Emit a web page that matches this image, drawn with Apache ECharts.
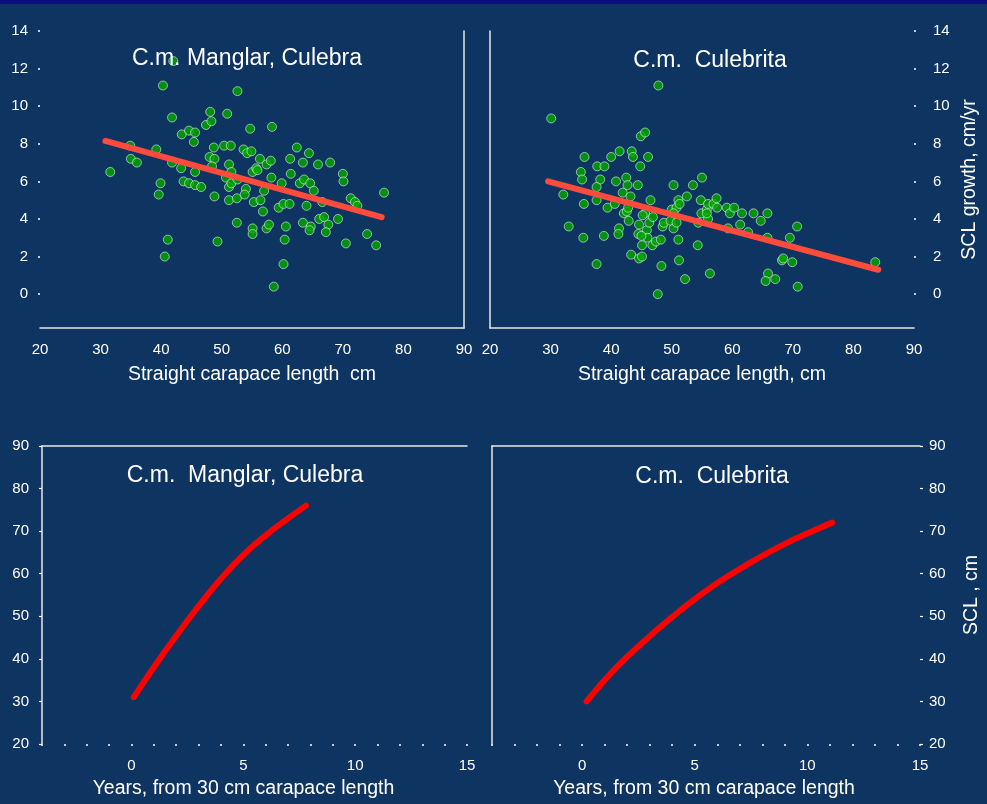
<!DOCTYPE html>
<html>
<head>
<meta charset="utf-8">
<script src="https://cdn.jsdelivr.net/npm/echarts@6/dist/echarts.min.js"></script>
<style>
  html, body { margin: 0; padding: 0; background: #0e3461; }
  #chart { width: 987px; height: 804px; }
</style>
</head>
<body>
<div id="chart"></div>
<script>
// Green turtle (Chelonia mydas) growth at two Culebra sites.
// Growth rate vs. straight carapace length: [SCL cm, growth cm/yr]
const manglarPoints = [
  [31.6,6.5],[34.9,7.9],[35.0,7.2],[36.0,7.0],[39.2,7.7],[40.3,11.1],[42.0,12.4],[41.8,9.4],
  [39.9,5.9],[39.6,5.3],[41.1,2.9],[40.6,2.0],[41.8,7.0],[43.4,8.5],[44.6,8.7],[45.6,8.6],
  [45.4,8.1],[43.3,6.7],[43.7,6.0],[44.6,5.9],[45.6,6.5],[45.6,5.8],[46.6,5.7],[47.4,9.0],
  [48.1,9.7],[48.3,9.2],[48.7,7.8],[48.0,7.3],[48.8,7.2],[48.4,6.8],[48.8,5.2],[49.3,2.8],
  [50.9,9.6],[50.4,7.9],[51.5,7.9],[51.2,6.9],[50.7,6.2],[51.2,5.7],[51.6,5.9],[51.2,5.0],
  [52.5,5.1],[52.6,10.8],[52.5,3.8],[52.6,6.1],[53.6,7.7],[54.2,7.5],[54.9,7.6],[54.0,5.6],
  [53.8,5.3],[54.7,8.8],[55.1,6.5],[55.7,6.7],[55.9,6.6],[55.3,4.9],[55.1,3.5],[55.1,3.2],
  [56.3,7.2],[56.4,5.0],[56.8,4.4],[57.0,5.5],[57.4,3.5],[57.8,3.7],[57.4,6.9],[58.1,7.1],
  [58.2,6.2],[58.3,8.9],[58.6,0.4],[59.4,4.6],[59.9,5.9],[60.2,4.8],[61.2,4.8],[60.6,3.6],
  [60.4,2.9],[60.2,1.6],[61.3,7.2],[61.4,6.4],[62.4,7.8],[63.4,7.0],[64.4,7.5],[62.9,5.9],
  [63.6,6.1],[64.6,5.9],[65.2,5.5],[64.0,4.7],[63.4,3.8],[64.7,3.6],[64.5,3.4],[65.9,6.9],
  [66.1,4.0],[66.9,4.1],[67.6,3.7],[67.2,3.3],[67.9,7.0],[66.6,4.9],[69.2,4.0],[70.0,6.4],
  [70.1,6.0],[70.5,2.7],[71.3,5.1],[72.0,4.9],[72.4,4.7],[74.0,3.2],[75.5,2.6],[76.8,5.4],
  [51.6,6.5]
];
const culebritaPoints = [
  [30.1,9.35],[32.1,5.3],[33.0,3.6],[35.6,7.3],[35.0,6.5],[35.2,6.1],[35.5,4.8],[35.4,3.0],
  [37.6,1.6],[37.7,6.8],[38.9,6.8],[38.2,6.1],[37.6,5.7],[37.6,5.0],[38.8,3.1],[39.4,4.6],
  [40.0,7.3],[41.4,7.6],[40.8,6.0],[40.6,4.8],[41.3,3.5],[41.2,3.2],[41.9,5.4],[42.5,6.2],
  [42.7,5.8],[43.2,5.2],[43.4,7.6],[43.6,7.3],[44.8,6.8],[44.9,8.4],[45.6,8.6],[46.1,7.3],
  [44.4,5.8],[42.1,4.3],[42.6,4.4],[42.9,3.9],[43.3,2.1],[44.6,3.7],[44.5,3.2],[45.1,2.6],
  [44.6,1.9],[45.1,2.0],[45.6,4.3],[45.9,3.4],[46.0,3.0],[46.3,3.8],[46.5,5.0],[46.9,4.1],
  [46.8,2.6],[47.4,2.8],[48.2,2.9],[47.8,11.1],[47.7,0.0],[48.3,1.5],[48.5,3.6],[48.7,3.8],
  [50.3,5.8],[50.0,4.5],[49.8,3.9],[50.3,3.5],[50.8,3.8],[50.8,4.6],[51.1,5.0],[51.1,2.9],
  [51.2,1.8],[52.2,0.8],[52.5,5.2],[53.5,5.8],[55.0,6.2],[54.8,5.0],[54.9,4.3],[54.4,3.8],
  [54.3,2.6],[55.8,4.5],[56.0,4.0],[56.3,1.1],[56.0,4.8],[56.9,4.8],[57.4,5.1],[57.5,4.6],
  [59.1,4.6],[59.6,4.3],[60.3,4.6],[61.6,4.3],[61.3,3.7],[59.3,3.5],[62.6,3.3],[63.5,4.3],
  [64.7,3.9],[65.8,4.3],[65.8,3.0],[65.9,1.1],[65.5,0.7],[67.1,0.8],[68.2,1.8],[68.4,1.9],
  [69.5,3.0],[69.9,1.7],[70.7,3.6],[70.8,0.4],[83.6,1.7],[51.3,4.8],[50.3,4.3],[55.8,4.3],
  [42.8,4.6],[45.2,4.2],[45.0,3.1]
];

// Fitted linear regressions (end points)
const manglarFit = [[30.8,8.15],[76.4,4.1]];
const culebritaFit = [[29.6,6.0],[84.1,1.3]];

// Predicted growth curves: years since 30 cm SCL vs SCL (cm)
const manglarYears = [0.1, 1.1, 2.0, 3.0, 4.0, 5.0, 6.0, 7.0, 7.8];
const manglarSCL   = [31, 38.8, 45.4, 52.4, 58.8, 64.4, 69.0, 73.0, 76];
const culebritaYears = [0.2, 1.5, 3.0, 4.5, 6.0, 7.5, 9.0, 10.4, 11.1];
const culebritaSCL   = [30, 37.9, 45.3, 52.0, 57.8, 62.7, 67.0, 70.4, 72.0];

// Tick labels
const lengthTicks = [20, 30, 40, 50, 60, 70, 80, 90];
const growthTicks = [0, 2, 4, 6, 8, 10, 12, 14];
const yearTicks = [0, 5, 10, 15];
const sclTicks = [20, 30, 40, 50, 60, 70, 80, 90];

const FONT = 'Liberation Sans, Arial, sans-serif';
const WHITE = '#ffffff';
const lineStyleW = { color: '#e8e8e8', width: 1.5 };
const labelStyle = { color: WHITE, fontSize: 15, fontFamily: FONT };
const nameStyle = { color: WHITE, fontSize: 19.5, fontFamily: FONT };
const titleStyle = { color: WHITE, fontSize: 23, fontWeight: 'normal', fontFamily: FONT };

function zip(xs, ys) { return xs.map((x, i) => [x, ys[i]]); }

const chart = echarts.init(document.getElementById('chart'), null, { renderer: 'canvas' });

const lengthAxis = (gridIndex, name) => ({
  type: 'value', gridIndex, position: 'bottom', min: 20, max: 90, interval: 10,
  axisLine: { show: true, onZero: false, lineStyle: lineStyleW },
  axisTick: { show: false },
  splitLine: { show: false },
  axisLabel: Object.assign({ margin: 14, customValues: lengthTicks }, labelStyle),
  name, nameLocation: 'middle', nameGap: 37, nameTextStyle: nameStyle
});
const yearAxis = (gridIndex, shiftLeft) => ({
  type: 'value', gridIndex, position: 'bottom', min: -4, max: 15, interval: 1,
  axisLine: { show: false, onZero: false },
  axisTick: { show: true, length: 2, inside: false, lineStyle: { color: WHITE, width: 1.5 } },
  splitLine: { show: false },
  axisLabel: Object.assign({ margin: 14, customValues: yearTicks }, labelStyle),
  name: 'Years, from 30 cm carapace length', nameLocation: 'middle', nameGap: 35,
  nameTextStyle: Object.assign({ padding: [0, shiftLeft * 2, 0, 0] }, nameStyle)
});
const frameAxis = (gridIndex, position, range) => Object.assign({
  type: 'value', gridIndex, position,
  axisLine: { show: true, onZero: false, lineStyle: lineStyleW },
  axisTick: { show: false }, axisLabel: { show: false }, splitLine: { show: false }
}, range);

const growthAxis = (gridIndex, position, margin, name) => ({
  type: 'value', gridIndex, position, min: -1.8, max: 14,
  axisLine: { show: false, onZero: false },
  axisTick: { show: true, length: 2, customValues: growthTicks, lineStyle: { color: WHITE, width: 1.5 } },
  splitLine: { show: false },
  axisLabel: Object.assign({ margin, customValues: growthTicks }, labelStyle),
  name: name || '', nameLocation: 'middle', nameRotate: 90, nameGap: 46, nameTextStyle: nameStyle
});
const sclAxis = (gridIndex, position, margin, showLine, name) => ({
  type: 'value', gridIndex, position, min: 20, max: 90, interval: 10,
  axisLine: { show: showLine, onZero: false, lineStyle: lineStyleW },
  axisTick: { show: true, length: 3, lineStyle: { color: WHITE, width: 1.2 } },
  splitLine: { show: false },
  axisLabel: Object.assign({ margin, customValues: sclTicks }, labelStyle),
  name: name || '', nameLocation: 'middle', nameRotate: 90, nameGap: 42, nameTextStyle: nameStyle
});

const dotStyle = {
  color: '#00a800', borderColor: 'rgba(235,245,235,0.75)', borderWidth: 1
};

const option = {
  backgroundColor: '#0e3461',
  animation: false,
  textStyle: { fontFamily: FONT },
  title: [
    { text: 'C.m. Manglar, Culebra', left: 242, top: 42, textAlign: 'center', textStyle: titleStyle },
    { text: 'C.m.  Culebrita', left: 705, top: 44, textAlign: 'center', textStyle: titleStyle },
    { text: 'C.m.  Manglar, Culebra', left: 240, top: 459, textAlign: 'center', textStyle: titleStyle },
    { text: 'C.m.  Culebrita', left: 707, top: 460, textAlign: 'center', textStyle: titleStyle }
  ],
  graphic: [
    { type: 'rect', left: 0, top: 0, shape: { width: 987, height: 4 }, style: { fill: '#0a0f7c' }, z: 100 }
  ],
  grid: [
    { left: 40, top: 31, width: 424, height: 297 },
    { left: 490, top: 31, width: 424, height: 297 },
    { left: 42, top: 446, width: 425, height: 298 },
    { left: 492, top: 446, width: 428, height: 298 }
  ],
  xAxis: [
    lengthAxis(0, 'Straight carapace length  cm'),
    lengthAxis(1, 'Straight carapace length, cm'),
    yearAxis(2, 11),
    yearAxis(3, 2),
    frameAxis(2, 'top', { min: -4, max: 15 }),
    frameAxis(3, 'top', { min: -4, max: 15 })
  ],
  yAxis: [
    growthAxis(0, 'left', 12),
    frameAxis(0, 'right', { min: -1.8, max: 14 }),
    growthAxis(1, 'right', 19, 'SCL growth, cm/yr'),
    frameAxis(1, 'left', { min: -1.8, max: 14 }),
    sclAxis(2, 'left', 13, true),
    sclAxis(3, 'right', 9, false, 'SCL , cm'),
    frameAxis(3, 'left', { min: 20, max: 90 })
  ],
  series: [
    { type: 'scatter', xAxisIndex: 0, yAxisIndex: 0, data: manglarPoints,
      symbol: 'circle', symbolSize: 9, itemStyle: dotStyle, z: 2 },
    { type: 'line', xAxisIndex: 0, yAxisIndex: 0, data: manglarFit, symbol: 'none',
      lineStyle: { color: '#ff4b3c', width: 6, cap: 'round' }, z: 3 },
    { type: 'scatter', xAxisIndex: 1, yAxisIndex: 2, data: culebritaPoints,
      symbol: 'circle', symbolSize: 9, itemStyle: dotStyle, z: 2 },
    { type: 'line', xAxisIndex: 1, yAxisIndex: 2, data: culebritaFit, symbol: 'none',
      lineStyle: { color: '#ff4b3c', width: 6, cap: 'round' }, z: 3 },
    { type: 'line', xAxisIndex: 2, yAxisIndex: 4, data: zip(manglarYears, manglarSCL),
      symbol: 'none', smooth: 0.5,
      lineStyle: { color: '#ff0000', width: 6, cap: 'round', join: 'round' } },
    { type: 'line', xAxisIndex: 3, yAxisIndex: 5, data: zip(culebritaYears, culebritaSCL),
      symbol: 'none', smooth: 0.5,
      lineStyle: { color: '#ff0000', width: 6, cap: 'round', join: 'round' } }
  ]
};

chart.setOption(option);
</script>
</body>
</html>
